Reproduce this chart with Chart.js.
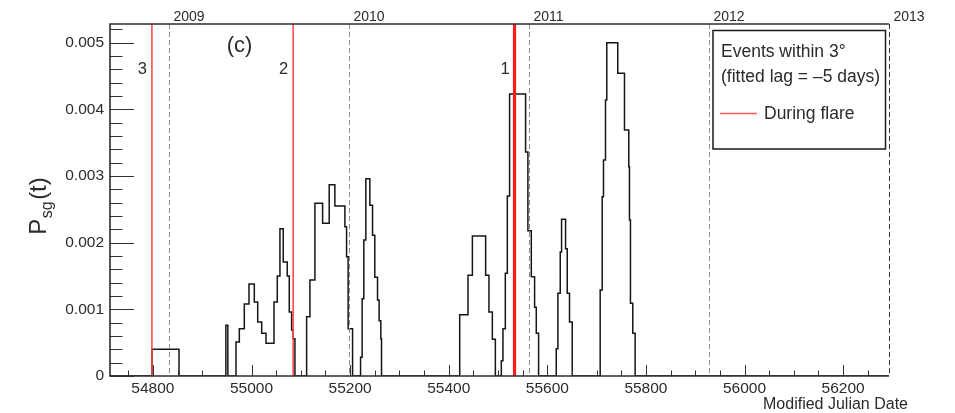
<!DOCTYPE html>
<html>
<head>
<meta charset="utf-8">
<script src="https://cdn.jsdelivr.net/npm/chart.js@4/dist/chart.umd.min.js"></script>
<style>
  html, body { margin: 0; padding: 0; background: #fff; }
  #wrap { width: 955px; height: 413px; }
</style>
</head>
<body>
<div id="wrap"><canvas id="c" width="955" height="413"></canvas></div>
<script>
// P_sg(t) histogram: bin i starts at binStart[i] (MJD) and keeps binValue[i] until the next start.
const binStart = [
  54713, 54798, 54853,
  54948, 54952,
  54968.6, 54975.3, 54985.4, 54994.9, 55005.7, 55012.6, 55020.7, 55029.4,
  55045.6, 55052.3, 55057.7, 55064.4, 55072.5, 55076.6, 55081.4, 55084.7, 55088.1,
  55111.8, 55118.5, 55128.6, 55144.2, 55157.6, 55169.1, 55189.4, 55192.8, 55196.0, 55205,
  55221.2, 55224.4, 55227.8, 55231.9, 55240.0, 55245.5, 55250.1, 55255.6, 55258.8, 55262.3, 55263.7,
  55422.3, 55439.1, 55448.0, 55474.9, 55481.6, 55488.5, 55494.6,
  55506.7, 55510.0, 55514.8, 55518.9, 55523.5, 55555.9, 55560.6, 55567.5, 55574.2, 55577.6, 55582.3,
  55618.1, 55621.4, 55626.2, 55628.9, 55637.0, 55640.4, 55645.0, 55650.5,
  55707.2, 55711.3, 55713.9, 55718.0, 55720.6, 55742.9, 55756.5, 55765.2, 55766.6, 55768.6, 55773.3, 55778.1,
  56293
];
const binValue = [
  0, 0.00040, 0,
  0.00076, 0,
  0.00051, 0.00071, 0.00108, 0.00138, 0.00111, 0.00081, 0.00064, 0.00049,
  0.00111, 0.00150, 0.00221, 0.00171, 0.00150, 0.00096, 0.00069, 0.00056, 0,
  0.00089, 0.00144, 0.00259, 0.00229, 0.00287, 0.00255, 0.00224, 0.00179, 0.00071, 0,
  0.00028, 0.00116, 0.00204, 0.00296, 0.00256, 0.00211, 0.00148, 0.00114, 0.00083, 0.00056, 0,
  0.00092, 0.00151, 0.00210, 0.00151, 0.00096, 0.00055, 0,
  0.00023, 0.00071, 0.00154, 0.00270, 0.00423, 0.00336, 0.00218, 0.00149, 0.00103, 0.00064, 0,
  0.00041, 0.00124, 0.00186, 0.00235, 0.00191, 0.00124, 0.00081, 0,
  0.00129, 0.00269, 0.00324, 0.00414, 0.00500, 0.00454, 0.00369, 0.00314, 0.00234, 0.00109, 0.00064, 0,
  0
];

// Calendar year boundaries (MJD of 1 January) and their labels
const yearLabels = ['2009', '2010', '2011', '2012', '2013'];
const yearMJD = [54832, 55197, 55562, 55927, 56293];

// Flare periods
const flareLabels = ['3', '2', '1'];
const flareMJD = [54798, 55084.5, 55533.5];
const flareWidth = [1.5, 1.5, 3.2];

// Axis ticks
const xMajorTicks = [54800, 55000, 55200, 55400, 55600, 55800, 56000, 56200];
const yMajorTicks = [0, 0.001, 0.002, 0.003, 0.004, 0.005];
const xMin = 54713, xMax = 56293;
const yMin = 0, yMax = 0.00528;

const FONT = '"Liberation Sans", Arial, Helvetica, sans-serif';
const INK = '#2b2b2b';

const histPoints = binStart.map((x, i) => ({ x: x, y: binValue[i] }));

const rootStyle = {
  id: 'rootStyle',
  afterDatasetsDraw(chart) {
    const ctx = chart.ctx;
    const xs = chart.scales.x, ys = chart.scales.y;
    const a = chart.chartArea;

    // year boundaries
    ctx.save();
    yearMJD.forEach((m, i) => {
      const px = Math.round(xs.getPixelForValue(m)) + 0.5;
      ctx.strokeStyle = i === yearMJD.length - 1 ? '#333' : '#8c8c8c';
      ctx.lineWidth = 1;
      ctx.setLineDash([5, 3]);
      ctx.beginPath();
      ctx.moveTo(px, a.top);
      ctx.lineTo(px, a.bottom);
      ctx.stroke();
      ctx.setLineDash([]);
      ctx.fillStyle = INK;
      ctx.font = '14px ' + FONT;
      ctx.textAlign = 'left';
      ctx.textBaseline = 'alphabetic';
      ctx.fillText(yearLabels[i], px + 4, 21);
    });
    ctx.restore();

    // flare markers
    ctx.save();
    flareMJD.forEach((m, i) => {
      const px = xs.getPixelForValue(m);
      ctx.strokeStyle = i === 2 ? '#ff1a1a' : '#ff4040';
      ctx.lineWidth = flareWidth[i];
      ctx.beginPath();
      ctx.moveTo(px, a.top);
      ctx.lineTo(px, a.bottom);
      ctx.stroke();
      ctx.fillStyle = INK;
      ctx.font = '16.5px ' + FONT;
      ctx.textAlign = 'center';
      ctx.textBaseline = 'alphabetic';
      ctx.fillText(flareLabels[i], px - 9.5, 73.5);
    });
    ctx.restore();

    // panel tag
    ctx.save();
    ctx.fillStyle = INK;
    ctx.font = '22px ' + FONT;
    ctx.textAlign = 'center';
    ctx.fillText('(c)', 239.5, 52);
    ctx.restore();

    // legend
    ctx.save();
    ctx.fillStyle = '#fff';
    ctx.fillRect(713, 30.5, 172.5, 118.5);
    ctx.strokeStyle = '#1a1a1a';
    ctx.lineWidth = 1.5;
    ctx.strokeRect(713, 30.5, 172.5, 118.5);
    ctx.fillStyle = INK;
    ctx.font = '17.5px ' + FONT;
    ctx.textAlign = 'left';
    ctx.fillText('Events within 3\u00b0', 721, 56.5);
    ctx.fillText('(fitted lag = \u20135 days)', 721, 82);
    ctx.strokeStyle = '#ff5a5a';
    ctx.lineWidth = 1.5;
    ctx.beginPath();
    ctx.moveTo(720, 113.5);
    ctx.lineTo(757, 113.5);
    ctx.stroke();
    ctx.fillText('During flare', 764, 118.5);
    ctx.restore();
  },
  afterDraw(chart) {
    const ctx = chart.ctx;
    const xs = chart.scales.x, ys = chart.scales.y;
    const a = chart.chartArea;
    ctx.save();
    ctx.strokeStyle = '#333';
    // inward ticks on the x axis
    ctx.lineWidth = 1;
    for (let m = 54750; m < xMax; m += 50) {
      const px = Math.round(xs.getPixelForValue(m)) + 0.5;
      const len = xMajorTicks.includes(m) ? 11 : 5.5;
      ctx.beginPath();
      ctx.moveTo(px, a.bottom);
      ctx.lineTo(px, a.bottom - len);
      ctx.stroke();
    }
    // inward ticks on the y axis
    for (let k = 0; k <= 26; k++) {
      const v = k * 0.0002;
      if (v > yMax) break;
      const py = Math.round(ys.getPixelForValue(v)) + 0.5;
      const len = k % 5 === 0 ? 24 : 12.5;
      ctx.beginPath();
      ctx.moveTo(a.left, py);
      ctx.lineTo(a.left + len, py);
      ctx.stroke();
    }
    // frame (the right edge is the dashed 2013 line)
    ctx.lineWidth = 1.6;
    ctx.strokeStyle = '#2e2e2e';
    ctx.beginPath();
    ctx.moveTo(a.right, a.top);
    ctx.lineTo(a.left, a.top);
    ctx.lineTo(a.left, a.bottom);
    ctx.lineTo(a.right, a.bottom);
    ctx.stroke();

    // axis titles
    ctx.fillStyle = INK;
    ctx.font = '16px ' + FONT;
    ctx.textAlign = 'right';
    ctx.textBaseline = 'alphabetic';
    ctx.fillText('Modified Julian Date', 908, 408.5);

    ctx.translate(46, 206);
    ctx.rotate(-Math.PI / 2);
    ctx.textAlign = 'left';
    ctx.font = '24px ' + FONT;
    const wP = ctx.measureText('P').width;
    ctx.font = '16px ' + FONT;
    const wS = ctx.measureText('sg').width;
    ctx.font = '24px ' + FONT;
    const wT = ctx.measureText('(t)').width;
    let x0 = -(wP + wS + wT + 2) / 2;
    ctx.fillText('P', x0, 0);
    ctx.font = '16px ' + FONT;
    ctx.fillText('sg', x0 + wP + 0.5, 6);
    ctx.font = '24px ' + FONT;
    ctx.fillText('(t)', x0 + wP + wS + 2, 0);
    ctx.restore();
  }
};

new Chart(document.getElementById('c'), {
  type: 'line',
  data: {
    datasets: [{
      data: histPoints,
      stepped: 'before',
      borderColor: '#161616',
      borderWidth: 1.5,
      pointRadius: 0,
      fill: false,
      tension: 0
    }]
  },
  options: {
    responsive: false,
    animation: false,
    devicePixelRatio: 1,
    layout: { padding: { top: 24, right: 66, left: 0, bottom: 0 } },
    plugins: { legend: { display: false }, tooltip: { enabled: false } },
    scales: {
      x: {
        type: 'linear',
        min: xMin,
        max: xMax,
        afterBuildTicks: s => { s.ticks = xMajorTicks.map(v => ({ value: v })); },
        afterFit: s => { s.height = 37; },
        ticks: {
          callback: v => String(v),
          font: { family: FONT, size: 15.5 },
          color: INK,
          padding: 3,
          maxRotation: 0,
          autoSkip: false
        },
        grid: { display: false, drawTicks: false },
        border: { display: false }
      },
      y: {
        min: yMin,
        max: yMax,
        afterBuildTicks: s => { s.ticks = yMajorTicks.map(v => ({ value: v })); },
        afterFit: s => { s.width = 110; },
        ticks: {
          callback: v => (v === 0 ? '0' : v.toFixed(3)),
          font: { family: FONT, size: 15.5 },
          color: INK,
          padding: 6,
          autoSkip: false
        },
        grid: { display: false, drawTicks: false },
        border: { display: false }
      }
    }
  },
  plugins: [rootStyle]
});
</script>
</body>
</html>
